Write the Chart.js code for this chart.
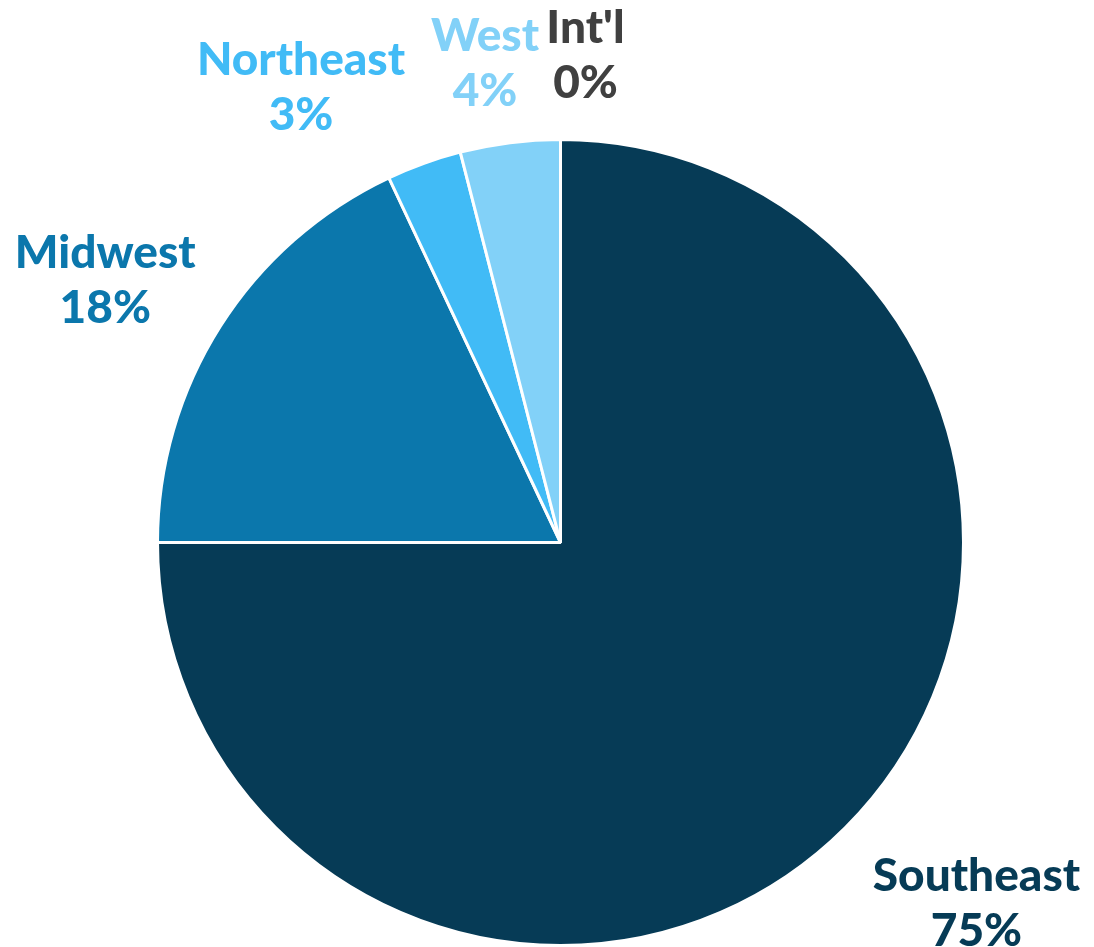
<!DOCTYPE html>
<html>
<head>
<meta charset="utf-8">
<script src="https://cdn.jsdelivr.net/npm/chart.js@4"></script>
<style>
  html, body { margin: 0; padding: 0; background: #ffffff; }
  #wrap { width: 1094px; height: 947px; position: relative; }
</style>
</head>
<body>
<div id="wrap"><canvas id="c"></canvas></div>
<script>
// ---- data ----
const categories = ["Southeast", "Midwest", "Northeast", "West", "Int'l"];
const shares = [75, 18, 3, 4, 0];
const sliceColors = ["#063B56", "#0B77AC", "#41BBF6", "#82D1F8", "#404040"];
// label offsets (px) from the outer edge point at each slice's mid-angle
const labelDX = [131, -115, -123, -25, 25];
const labelDY = [76, -46, -76, -80, -84];

const labelPlugin = {
  id: 'outsideLabels',
  afterDatasetsDraw(chart) {
    const ctx = chart.ctx;
    const meta = chart.getDatasetMeta(0);
    ctx.save();
    ctx.font = "900 46px Lato, 'Open Sans', sans-serif";
    ctx.textAlign = 'center';
    ctx.textBaseline = 'middle';
    meta.data.forEach((arc, i) => {
      const p = arc.getProps(['x', 'y', 'startAngle', 'endAngle', 'outerRadius'], true);
      const mid = (p.startAngle + p.endAngle) / 2;
      const ex = p.x + Math.cos(mid) * p.outerRadius;
      const ey = p.y + Math.sin(mid) * p.outerRadius;
      const cx = ex + labelDX[i];
      const cy = ey + labelDY[i];
      ctx.fillStyle = sliceColors[i];
      ctx.fillText(categories[i], cx, cy - 27);
      ctx.fillText(Math.round(shares[i]) + '%', cx, cy + 28);
    });
    ctx.restore();
  }
};

new Chart(document.getElementById('c'), {
  type: 'pie',
  data: {
    labels: categories,
    datasets: [{
      data: shares,
      backgroundColor: sliceColors,
      borderColor: '#ffffff',
      borderWidth: 3
    }]
  },
  options: {
    responsive: true,
    maintainAspectRatio: false,
    animation: false,
    layout: { padding: { top: 138, bottom: 0, left: 156, right: 129 } },
    plugins: {
      legend: { display: false },
      tooltip: { enabled: false }
    }
  },
  plugins: [labelPlugin]
});
</script>
</body>
</html>
